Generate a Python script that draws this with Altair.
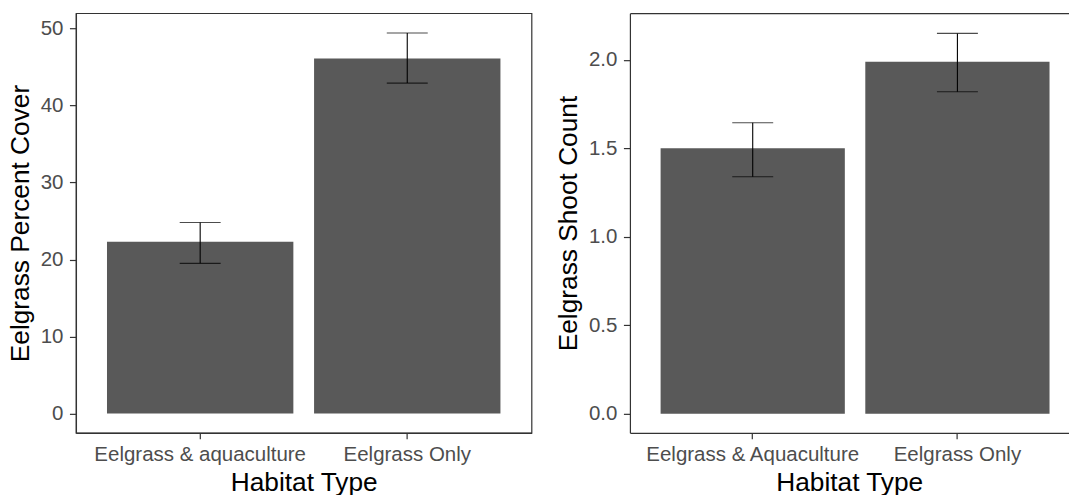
import altair as alt
import pandas as pd

# Left panel: Eelgrass percent cover
habitat_left = ["Eelgrass & aquaculture", "Eelgrass Only"]
cover_mean = [22.3, 46.1]
cover_lo = [19.5, 42.9]
cover_hi = [24.8, 49.4]

# Right panel: Eelgrass shoot count
habitat_right = ["Eelgrass & Aquaculture", "Eelgrass Only"]
shoot_mean = [1.50, 1.99]
shoot_lo = [1.34, 1.82]
shoot_hi = [1.645, 2.15]

left_ticks = [0, 10, 20, 30, 40, 50]
right_ticks = [0.0, 0.5, 1.0, 1.5, 2.0]

FONT = "Liberation Sans"
BAR = "#595959"
LINE = "#333333"

df_left = pd.DataFrame({"habitat": habitat_left, "mean": cover_mean, "lo": cover_lo, "hi": cover_hi})
df_right = pd.DataFrame({"habitat": habitat_right, "mean": shoot_mean, "lo": shoot_lo, "hi": shoot_hi})


def panel(df, ytitle, ydomain, yticks, yfmt, width, xscale, top_axis):
    base = alt.Chart(df)
    xaxis = alt.Axis(title="Habitat Type", labelAngle=0, labelPadding=5.5, titlePadding=4.5,
                     tickSize=6, orient="bottom", labelLimit=0)
    x_main = alt.X("habitat:N", sort=None, scale=xscale, axis=xaxis)
    x_other = alt.X("habitat:N", sort=None, scale=xscale, axis=None) if top_axis else x_main
    yscale = alt.Scale(domain=ydomain, nice=False, zero=False)
    yaxis = alt.Axis(title=ytitle, values=yticks, format=yfmt, tickSize=6.5, labelPadding=6.5,
                     titlePadding=6)
    bars = base.mark_bar(color=BAR).encode(
        x=x_main,
        y=alt.Y("mean:Q", scale=yscale, axis=yaxis),
        y2=alt.datum(0),
    )
    err = base.mark_rule(color="black", strokeWidth=1.1).encode(
        x=x_other, y=alt.Y("lo:Q"), y2="hi:Q"
    )
    cap_lo = base.mark_tick(color="black", size=41, thickness=1.1).encode(
        x=x_other, y=alt.Y("lo:Q")
    )
    if top_axis:
        x_top = alt.X("habitat:N", sort=None, scale=xscale,
                      axis=alt.Axis(orient="top", labels=False, ticks=False, title=None,
                                    domain=True))
    else:
        x_top = x_main
    cap_hi = base.mark_tick(color="black", size=41, thickness=1.1).encode(
        x=x_top, y=alt.Y("hi:Q")
    )
    layer = alt.layer(bars, err, cap_lo, cap_hi).properties(width=width, height=420)
    if top_axis:
        layer = layer.resolve_axis(x="independent")
    return layer


left = panel(df_left, "Eelgrass Percent Cover", [-2.5, 51.97], left_ticks, "d", 456,
             alt.Scale(paddingInner=0.1, paddingOuter=0.15), False).properties(
    view=alt.ViewBackground(stroke=LINE, strokeWidth=1.2)
)

right = panel(df_right, "Eelgrass Shoot Count", [-0.108, 2.264], right_ticks, ".1f", 439,
              alt.Scale(paddingInner=0.1, paddingOuter=0.1213, align=0.618), True)

chart = alt.hconcat(left, right, spacing=22.5).properties(
    padding={"left": 6, "top": 12, "right": 0, "bottom": 0},
    background="white",
).configure_view(stroke=None).configure_axis(
    grid=False,
    labelFont=FONT,
    labelFontSize=20.5,
    labelColor="#4D4D4D",
    titleFont=FONT,
    titleFontSize=26.3,
    titleFontWeight="normal",
    titleColor="black",
    tickColor=LINE,
    tickWidth=1.2,
    domainColor=LINE,
    domainWidth=1.2,
)

chart.save("out.html", embed_options={"renderer": "svg", "actions": False})
